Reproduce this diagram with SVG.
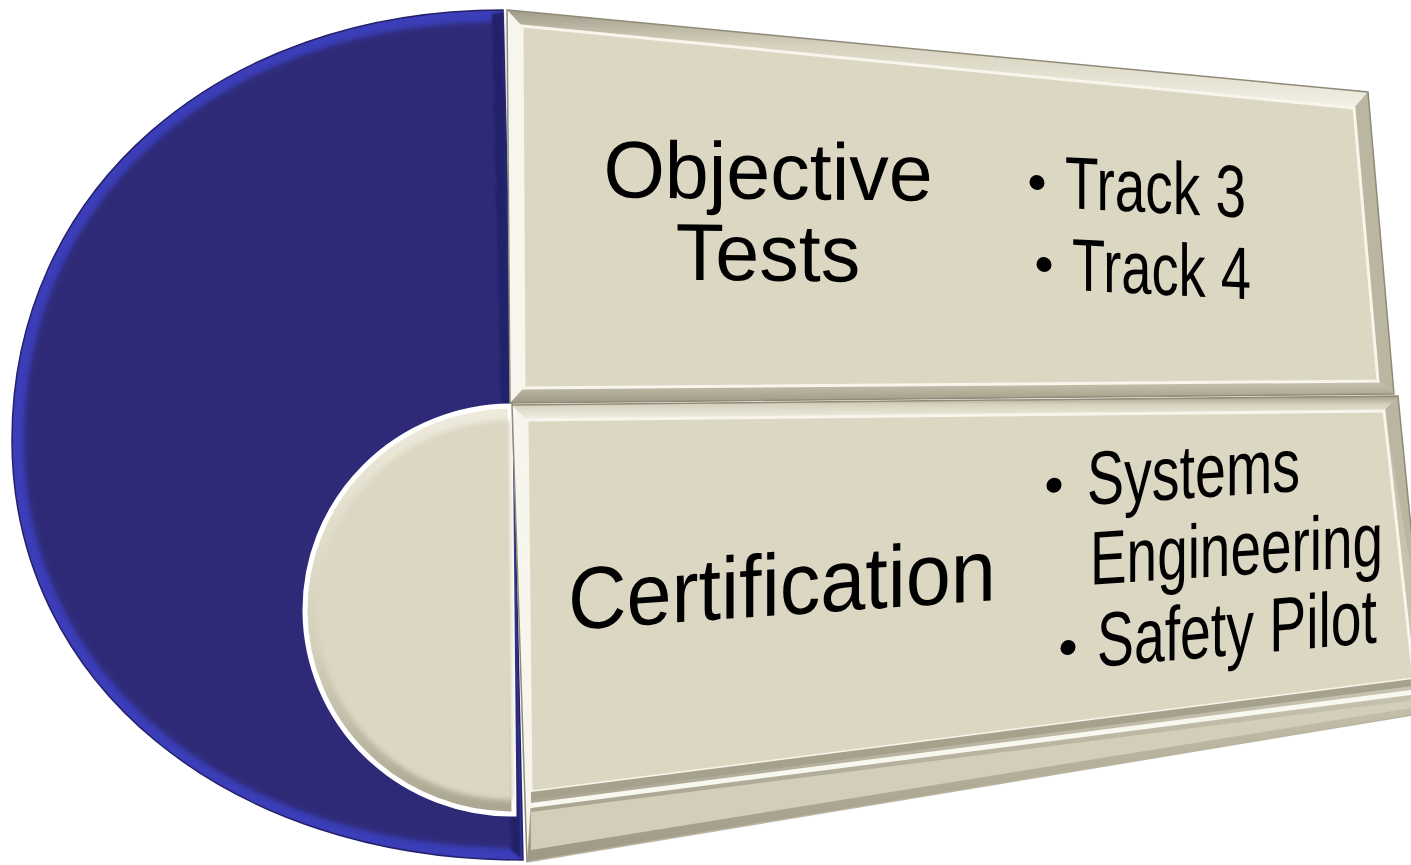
<svg xmlns="http://www.w3.org/2000/svg" width="1411" height="865" viewBox="0 0 1411 865">
  <defs>
    <filter id="soft" x="-5%" y="-5%" width="110%" height="110%">
      <feGaussianBlur stdDeviation="2.5"/>
    </filter>
    <filter id="soft1" x="-5%" y="-5%" width="110%" height="110%">
      <feGaussianBlur stdDeviation="1.2"/>
    </filter>
    <linearGradient id="topband" x1="0" y1="0" x2="0" y2="1">
      <stop offset="0" stop-color="#9F9B88"/>
      <stop offset="0.35" stop-color="#D6D1BD"/>
      <stop offset="1" stop-color="#F3F1E7"/>
    </linearGradient>
    <linearGradient id="botband" x1="0" y1="0" x2="0" y2="1">
      <stop offset="0" stop-color="#C9C5B0"/>
      <stop offset="1" stop-color="#9C9884"/>
    </linearGradient>
    <linearGradient id="diskshade" x1="0" y1="0" x2="0" y2="1">
      <stop offset="0" stop-color="#EEEBDD"/>
      <stop offset="0.6" stop-color="#D4CFBA"/>
      <stop offset="1" stop-color="#A9A590"/>
    </linearGradient>
    <style>
      .lbl { font-family: "Liberation Sans", Arial, sans-serif; fill: #000000; }
      .face { fill: #DCD7C3; }
      .outline { fill: none; stroke: #8F8B78; stroke-width: 1.5; }
      .dot { fill: #000000; }
    </style>
  </defs>

  <rect width="1411" height="865" fill="#FFFFFF"/>

  <!-- big blue half disk -->
  <g id="blue-arc">
    <path d="M503,10 C218,10 12,191 12,440 C12,684 227,860 523,860 Z" fill="#3B3EB8" stroke="#24216A" stroke-width="1.5"/>
    <path d="M500,22 C223,22 24,197 24,440 C24,677 231,848 519,848 Z" fill="#2E2A78" filter="url(#soft)"/>
    <path d="M492,14 L503,12 L521,858 L511,850 Z" fill="#23206A" filter="url(#soft1)"/>
  </g>

  <!-- inner beige half disk -->
  <g id="inner-disk">
    <path d="M510,406 A207,204 0 0 0 514,814 Z" fill="url(#diskshade)" stroke="#FFFFFF" stroke-width="5"/>
    <path d="M510,420 A194,190 0 0 0 513,800 Z" fill="#DCD7C3" filter="url(#soft)"/>
  </g>

  <!-- top panel -->
  <g id="panel-top">
    <polygon points="507,10 1368,92 1394,394 510,403" fill="#C6C2AD"/>
    <polygon points="507,10 1368,92 1354,108 522,26" fill="url(#topband)"/>
    <polygon points="507,10 522,26 524,388 510,403" fill="#F6F5EE"/>
    <polygon points="1368,92 1394,394 1378,381 1354,108" fill="#BAB6A1"/>
    <polygon points="510,403 524,388 1378,381 1394,394" fill="url(#botband)"/>
    <polygon points="522,26 1354,108 1378,381 524,388" class="face" stroke="#F7F5EC" stroke-width="3"/>
    <polygon points="507,10 1368,92 1394,394 510,403" class="outline"/>
    <text class="lbl" font-size="79" text-anchor="middle" transform="translate(768,199) skewY(0.6) scale(1.0,1.02)"><tspan x="0" y="0">Objective</tspan><tspan x="0" y="80">Tests</tspan></text>
    <g transform="translate(1065,208) skewY(3)">
      <circle class="dot" cx="-28" cy="-24" r="7.5"/>
      <text class="lbl" font-size="74" transform="scale(0.742,1)">Track 3</text>
    </g>
    <g transform="translate(1072,290) skewY(3)">
      <circle class="dot" cx="-28" cy="-24" r="7.5"/>
      <text class="lbl" font-size="74" transform="scale(0.734,1)">Track 4</text>
    </g>
  </g>

  <!-- bottom panel -->
  <g id="panel-bottom">
    <polygon points="512,405 1398,396 1430,720 1430,712 527,862" fill="#C6C2AD"/>
    <polygon points="527,800 1430,682 1430,712 527,862" fill="url(#botband)"/>
    <polygon points="531,812 1430,698 1430,705 531,850" fill="#D3CEB9"/>
    <line x1="527" y1="806" x2="1430" y2="690" stroke="#F8F7F0" stroke-width="5"/>
    <polygon points="512,405 1398,396 1384,411 527,420" fill="url(#topband)"/>
    <polygon points="512,405 527,420 531,800 527,862" fill="#F6F5EE"/>
    <polygon points="1398,396 1430,720 1430,680 1384,411" fill="#BAB6A1"/>
    <polygon points="527,420 1384,411 1413,672 1413,679 531,792" class="face" stroke="#F7F5EC" stroke-width="3"/>
    <polygon points="531,792 1413,679 1413,686 531,800" fill="#A5A18D"/>
    <polyline points="527,862 512,405 1398,396 1430,720" class="outline"/>
    <line x1="527" y1="862" x2="1430" y2="712" stroke="#B9B5A2" stroke-width="1.5"/>
    <text class="lbl" font-size="88" transform="translate(568,630) skewY(-4) scale(0.921,1)">Certification</text>
    <g transform="translate(1087,505) skewY(-3.8)">
      <circle class="dot" cx="-33" cy="-22" r="7.5"/>
      <text class="lbl" font-size="76" transform="scale(0.731,1)">Systems</text>
      <text class="lbl" font-size="76" transform="translate(3,80) scale(0.7225,1)">Engineering</text>
    </g>
    <g transform="translate(1097,667) skewY(-5)">
      <circle class="dot" cx="-29" cy="-22" r="7.5"/>
      <text class="lbl" font-size="77" transform="scale(0.719,1)">Safety Pilot</text>
    </g>
  </g>
</svg>
